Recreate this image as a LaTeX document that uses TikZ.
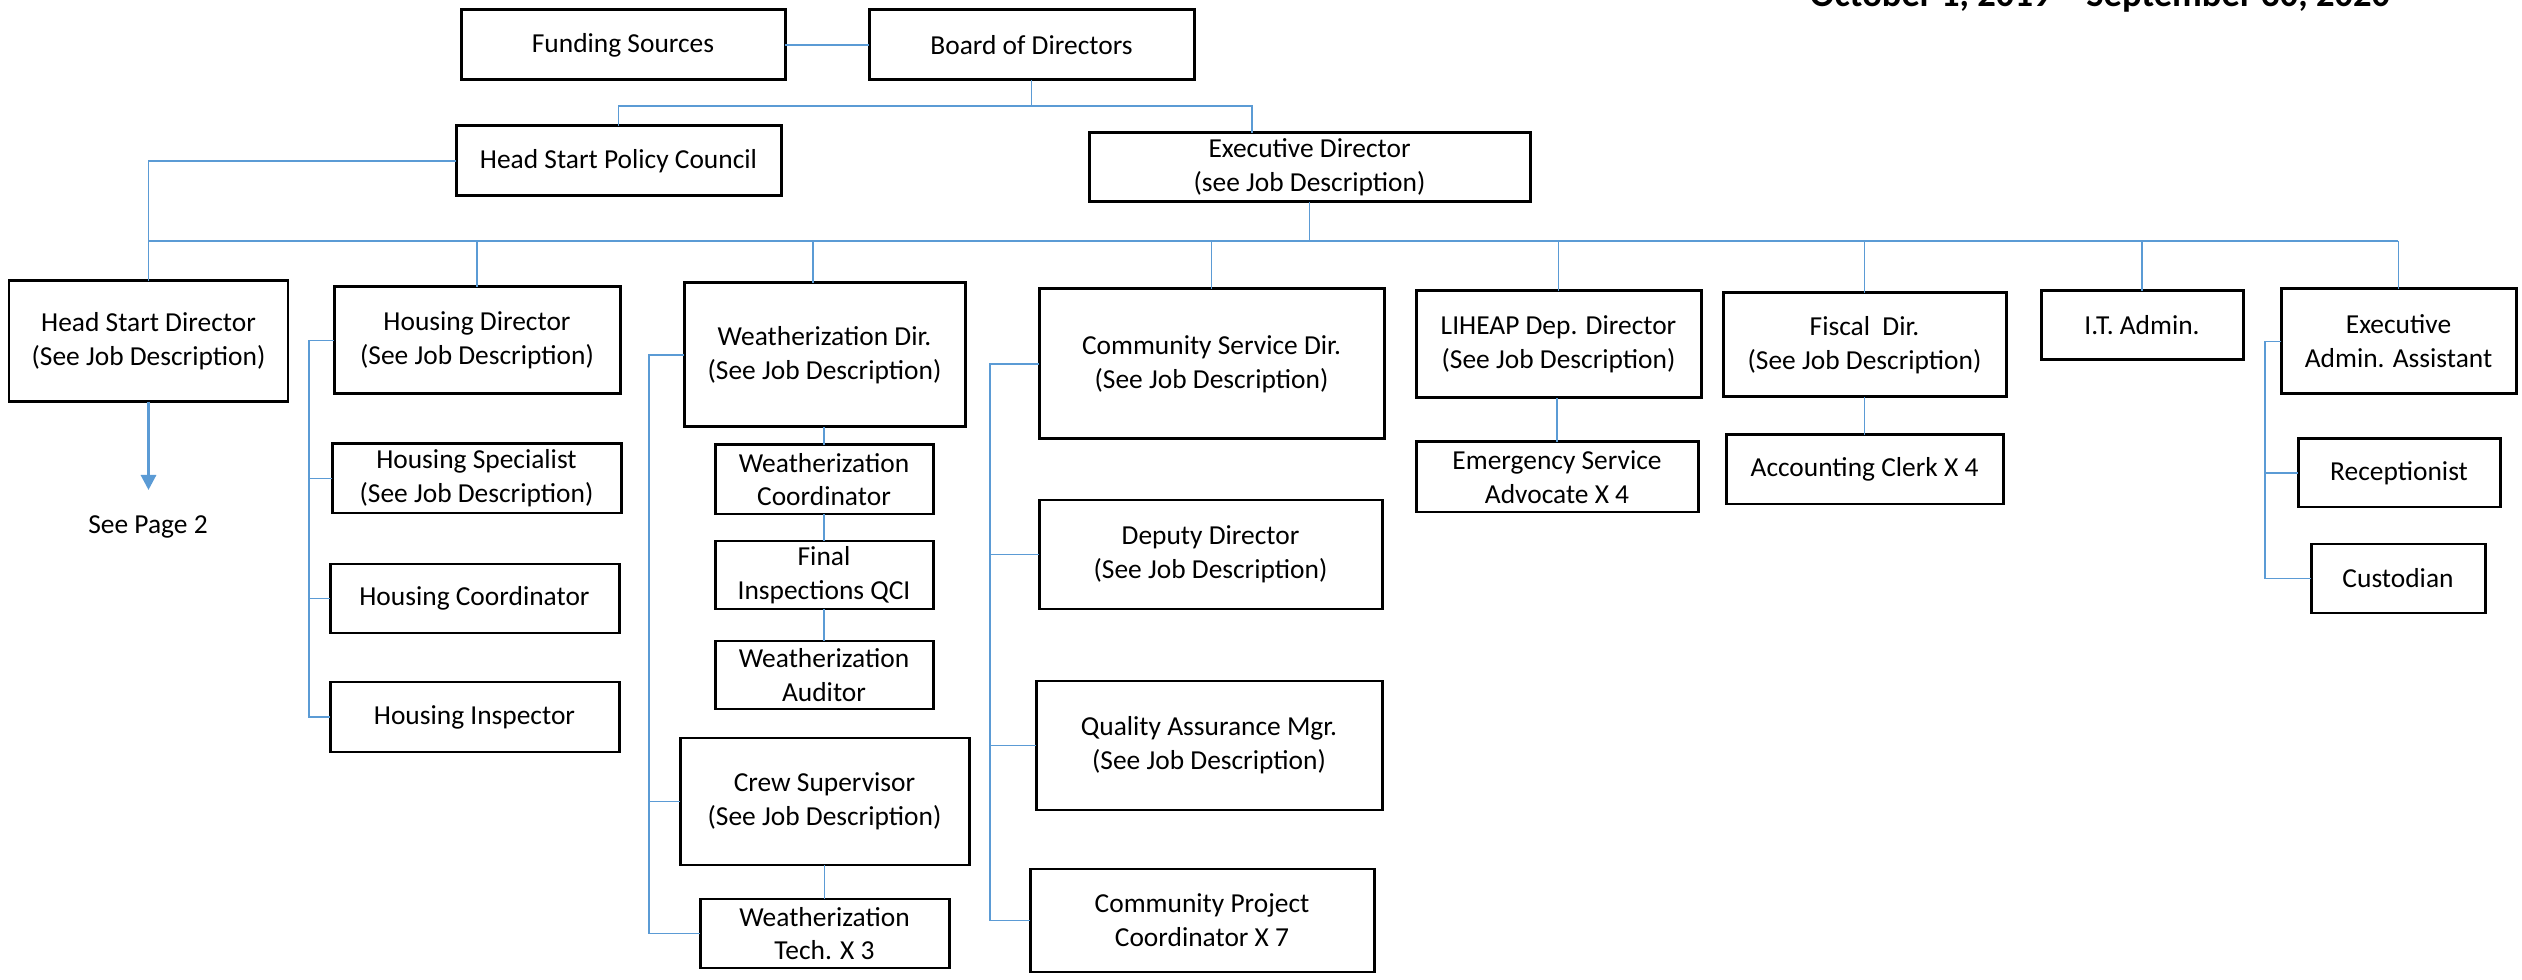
\documentclass[tikz,border=0pt]{standalone}
\usepackage{fontspec}
\setmainfont{Carlito}
\usetikzlibrary{arrows.meta}
\definecolor{lineblue}{HTML}{5B9BD5}
\tikzset{
  box/.style={draw=black, line width=0.85pt, inner sep=0pt, outer sep=0pt, align=center,
    font=\fontsize{7.8}{9.6}\selectfont, fill=white},
  conn/.style={draw=lineblue, line width=0.5pt},
  arrowc/.style={draw=lineblue, line width=0.85pt, -{Triangle[width=0.15cm,length=0.15cm]}},
  plain/.style={inner sep=0pt, font=\fontsize{7.8}{9.6}\selectfont},
  titletext/.style={inner sep=0pt, anchor=base, font=\bfseries\fontsize{10.4}{12}\selectfont}
}
\newcommand\orgbox[6]{\node[box, minimum width={(#4-#2)*0.01cm}, minimum height={(#5-#3)*0.01cm}] (#1) at ({(#2+#4)/2},{(#3+#5)/2}) {#6};}
\begin{document}
\begin{tikzpicture}[x=0.01cm,y=-0.01cm]
\useasboundingbox (0,0) rectangle (2522,980);
\clip (0,0) rectangle (2522,980);
% title (cut off at the top in the original)
\node[titletext] (title) at (2100,7) {October 1, 2019 -- September 30, 2020};
% boxes
\orgbox{fund}{461}{10}{785}{80}{Funding Sources}
\orgbox{board}{869}{10}{1194}{80}{Board of Directors}
\orgbox{hspc}{456}{126}{781}{196}{Head Start Policy Council}
\orgbox{ed}{1089}{133}{1530}{202}{Executive Director\\(see Job Description)}
\orgbox{hsd}{9}{281}{288}{402}{Head Start Director\\(See Job Description)}
\orgbox{hdir}{334}{287}{620}{394}{Housing Director\\(See Job Description)}
\orgbox{hspec}{332}{444}{621}{513}{Housing Specialist\\(See Job Description)}
\orgbox{hcoord}{330}{564}{619}{633}{Housing Coordinator}
\orgbox{hinsp}{330}{682}{619}{752}{Housing Inspector}
\orgbox{wdir}{684}{283}{965}{427}{Weatherization Dir.\\(See Job Description)}
\orgbox{wcoord}{715}{445}{933}{514}{Weatherization\\Coordinator}
\orgbox{wfinal}{715}{541}{933}{609}{Final\\Inspections QCI}
\orgbox{waud}{715}{641}{933}{709}{Weatherization\\Auditor}
\orgbox{crew}{680}{738}{969}{865}{Crew Supervisor\\(See Job Description)}
\orgbox{wtech}{700}{899}{949}{968}{Weatherization\\Tech. X 3}
\orgbox{csd}{1039}{289}{1384}{439}{Community Service Dir.\\(See Job Description)}
\orgbox{dep}{1039}{500}{1382}{609}{Deputy Director\\(See Job Description)}
\orgbox{qa}{1036}{681}{1382}{810}{Quality Assurance Mgr.\\(See Job Description)}
\orgbox{cpc}{1030}{869}{1374}{972}{Community Project\\Coordinator X 7}
\orgbox{lih}{1416}{291}{1701}{398}{LIHEAP Dep. Director\\(See Job Description)}
\orgbox{esa}{1416}{442}{1698}{512}{Emergency Service\\Advocate X 4}
\orgbox{fis}{1723}{293}{2006}{397}{Fiscal\ \ Dir.\\(See Job Description)}
\orgbox{acc}{1726}{435}{2003}{504}{Accounting Clerk X 4}
\orgbox{it}{2041}{291}{2243}{360}{I.T. Admin.}
\orgbox{ea}{2281}{289}{2516}{394}{Executive\\Admin. Assistant}
\orgbox{rec}{2298}{439}{2500}{507}{Receptionist}
\orgbox{cus}{2311}{544}{2485}{613}{Custodian}
\node[plain] (seep) at (148,527) {See Page 2};
% helper coordinates
\coordinate (topbus) at (0,106);
\coordinate (edin) at (1252,0);
\coordinate (busL) at (149,241);
\coordinate (busR) at (2398,241);
\coordinate (wdrop) at (813,0);
\coordinate (tip) at (0,490);
\coordinate (hbx) at (309,0);
\coordinate (wbx) at (649,0);
\coordinate (cbx) at (990,0);
\coordinate (ebx) at (2265,0);
% top connectors
\draw[conn] (fund.east) -- (board.west);
\draw[conn] (board.south) -- (board.south |- topbus);
\draw[conn] (hspc.north) -- (hspc.north |- topbus) -- (edin |- topbus) -- (edin |- ed.north);
\draw[conn] (hspc.west) -| (hsd.north);
% main bus
\draw[conn] (busL) -- (busR);
\draw[conn] (ed.south) -- (ed.south |- busL);
\draw[conn] (hdir.north) -- (hdir.north |- busL);
\draw[conn] (wdrop |- busL) -- (wdrop |- wdir.north);
\draw[conn] (csd.north) -- (csd.north |- busL);
\draw[conn] (lih.north) -- (lih.north |- busL);
\draw[conn] (fis.north) -- (fis.north |- busL);
\draw[conn] (it.north) -- (it.north |- busL);
\draw[conn] (ea.north) -- (ea.north |- busR);
% head start arrow
\draw[arrowc] (hsd.south) -- (hsd.south |- tip);
% housing bracket
\draw[conn] (hdir.west) -- (hdir.west -| hbx) -- (hinsp.west -| hbx) -- (hinsp.west);
\draw[conn] (hspec.west -| hbx) -- (hspec.west);
\draw[conn] (hcoord.west -| hbx) -- (hcoord.west);
% weatherization
\draw[conn] (wdir.west) -- (wdir.west -| wbx) -- (wtech.west -| wbx) -- (wtech.west);
\draw[conn] (crew.west -| wbx) -- (crew.west);
\draw[conn] (wcoord.north) -- (wcoord.north |- wdir.south);
\draw[conn] (wfinal.north) -- (wfinal.north |- wcoord.south);
\draw[conn] (waud.north) -- (waud.north |- wfinal.south);
\draw[conn] (wtech.north) -- (wtech.north |- crew.south);
% community services
\draw[conn] (csd.west) -- (csd.west -| cbx) -- (cpc.west -| cbx) -- (cpc.west);
\draw[conn] (dep.west -| cbx) -- (dep.west);
\draw[conn] (qa.west -| cbx) -- (qa.west);
% LIHEAP and fiscal
\draw[conn] (esa.north) -- (esa.north |- lih.south);
\draw[conn] (acc.north) -- (acc.north |- fis.south);
% executive admin bracket
\draw[conn] (ea.west) -- (ea.west -| ebx) -- (cus.west -| ebx) -- (cus.west);
\draw[conn] (rec.west -| ebx) -- (rec.west);
\end{tikzpicture}
\end{document}
